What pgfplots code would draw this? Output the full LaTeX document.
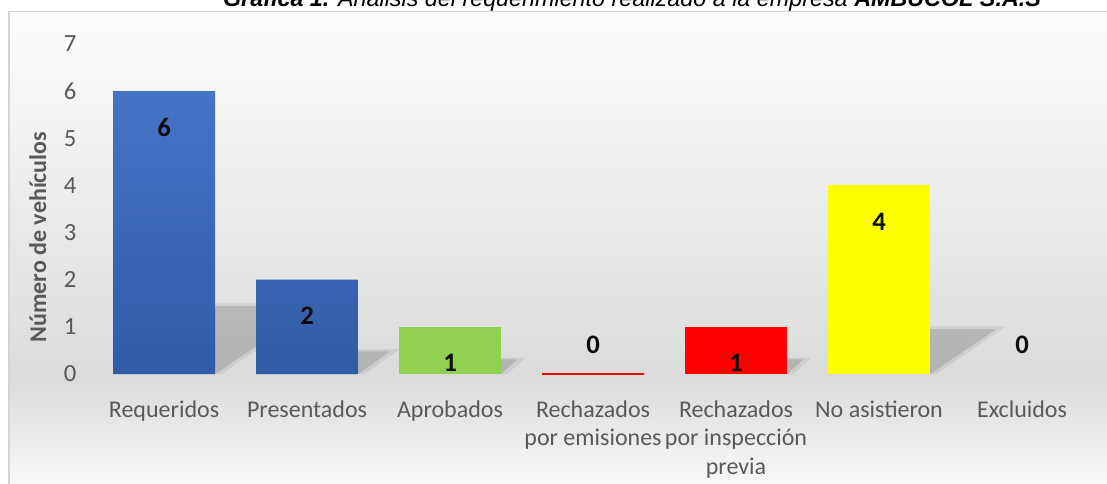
\documentclass[border=0pt]{standalone}
\usepackage{fontspec}
\setmainfont{Carlito}
\newfontfamily\titlefont{Liberation Sans}
\usepackage{pgfplots}
\pgfplotsset{compat=1.18}
\definecolor{txtgray}{HTML}{595959}
\definecolor{bgpeak}{HTML}{DBDBDB}
\definecolor{bgtop}{HTML}{FDFDFD}
\definecolor{bgbot}{HTML}{FAFAFA}
\definecolor{framegray}{HTML}{D4D4D4}
\definecolor{bluetop}{HTML}{4674C6}
\definecolor{bluebot}{HTML}{305BA6}
\definecolor{mygreen}{HTML}{92D050}
\definecolor{myred}{HTML}{FF0000}
\definecolor{myyellow}{HTML}{FFFF00}
\pgfplotsset{
  valnode/.style={nodes near coords, point meta=explicit symbolic,
    nodes near coords style={font=\bfseries\fontsize{20}{22}\selectfont, text=black!95, anchor=center, yshift=#1}},
  mybar/.style={ybar, bar width=76.5pt, bar shift=0pt, draw=none},
  shadow/.style={fill=black, fill opacity=#1, draw=none, forget plot},
}
\begin{document}
\begin{tikzpicture}
\useasboundingbox (0,0) rectangle (830.25pt,362.25pt);
\clip (0,0) rectangle (830.25pt,362.25pt);
\shade[top color=bgtop, bottom color=bgpeak] (6.75pt,77.25pt) rectangle (840pt,353.6pt);
\shade[top color=bgpeak, bottom color=bgbot] (6.75pt,-5pt) rectangle (840pt,77.26pt);
\draw[framegray, line width=1pt] (6.75pt,-5pt) -- (6.75pt,353.6pt) -- (840pt,353.6pt);
\node[anchor=base, inner sep=0pt, font=\titlefont\fontsize{17.5}{20}\selectfont\itshape] at (474pt,357pt)
  {\textbf{Gráfica 1.} Análisis del requerimiento realizado a la empresa \textbf{AMBUCOL S.A.S}};
\begin{axis}[
  at={(69.4pt,81.75pt)}, anchor=south west,
  width=750.75pt, height=247.5pt, scale only axis,
  xmin=-0.5, xmax=6.5, ymin=0, ymax=7,
  axis line style={draw=none}, major tick length=0pt,
  clip=false,
  /pgf/number format/assume math mode=true,
  xtick={0,1,2,3,4,5,6},
  xticklabels={Requeridos, Presentados, Aprobados, {Rechazados\\por emisiones}, {Rechazados\\por inspección\\previa}, No asistieron, Excluidos},
  xticklabel style={align=center, font=\fontsize{18}{21.4}\selectfont, text=txtgray, yshift=-16.5pt},
  ytick={0,1,2,3,4,5,6,7},
  yticklabel style={font=\fontsize{18.5}{20}\selectfont, text=txtgray, xshift=-8.6pt},
  ylabel={Número de vehículos},
  ylabel style={font=\bfseries\fontsize{18}{20}\selectfont, text=txtgray, at={(axis description cs:-0.0546,0.415)}, anchor=center},
]
% soft shadows (two layers for a blurred edge)
\addplot[shadow=0.07] coordinates {(-0.357,0) (0.40,0) (1.13,1.50) (0.369,1.50)} -- cycle;
\addplot[shadow=0.12] coordinates {(-0.357,0) (0.357,0) (1.06,1.44) (0.369,1.44)} -- cycle;
\addplot[shadow=0.07] coordinates {(0.643,0) (1.40,0) (1.65,0.53) (0.890,0.53)} -- cycle;
\addplot[shadow=0.12] coordinates {(0.643,0) (1.357,0) (1.58,0.48) (0.890,0.48)} -- cycle;
\addplot[shadow=0.07] coordinates {(1.643,0) (2.40,0) (2.53,0.35) (1.773,0.35)} -- cycle;
\addplot[shadow=0.12] coordinates {(1.643,0) (2.357,0) (2.47,0.31) (1.773,0.31)} -- cycle;
\addplot[shadow=0.07] coordinates {(3.643,0) (4.40,0) (4.53,0.35) (3.773,0.35)} -- cycle;
\addplot[shadow=0.12] coordinates {(3.643,0) (4.357,0) (4.47,0.31) (3.773,0.31)} -- cycle;
\addplot[shadow=0.07] coordinates {(4.643,0) (5.40,0) (5.89,1.01) (5.133,1.01)} -- cycle;
\addplot[shadow=0.12] coordinates {(4.643,0) (5.357,0) (5.82,0.95) (5.133,0.95)} -- cycle;
% bars
\addplot[mybar, top color=bluetop, bottom color=bluebot, valnode=-27pt] coordinates {(0,6) [6] (1,2) [2]};
\addplot[mybar, fill=mygreen, valnode=-27pt] coordinates {(2,1) [1]};
\addplot[mybar, draw=myred, fill=myred, line width=0.8pt, valnode=21.75pt] coordinates {(3,0) [0]};
\addplot[mybar, fill=myred, valnode=-27pt] coordinates {(4,1) [1]};
\addplot[mybar, fill=myyellow, valnode=-27pt] coordinates {(5,4) [4]};
\addplot[mybar, fill=none, valnode=21.75pt] coordinates {(6,0) [0]};
\end{axis}
\end{tikzpicture}
\end{document}
